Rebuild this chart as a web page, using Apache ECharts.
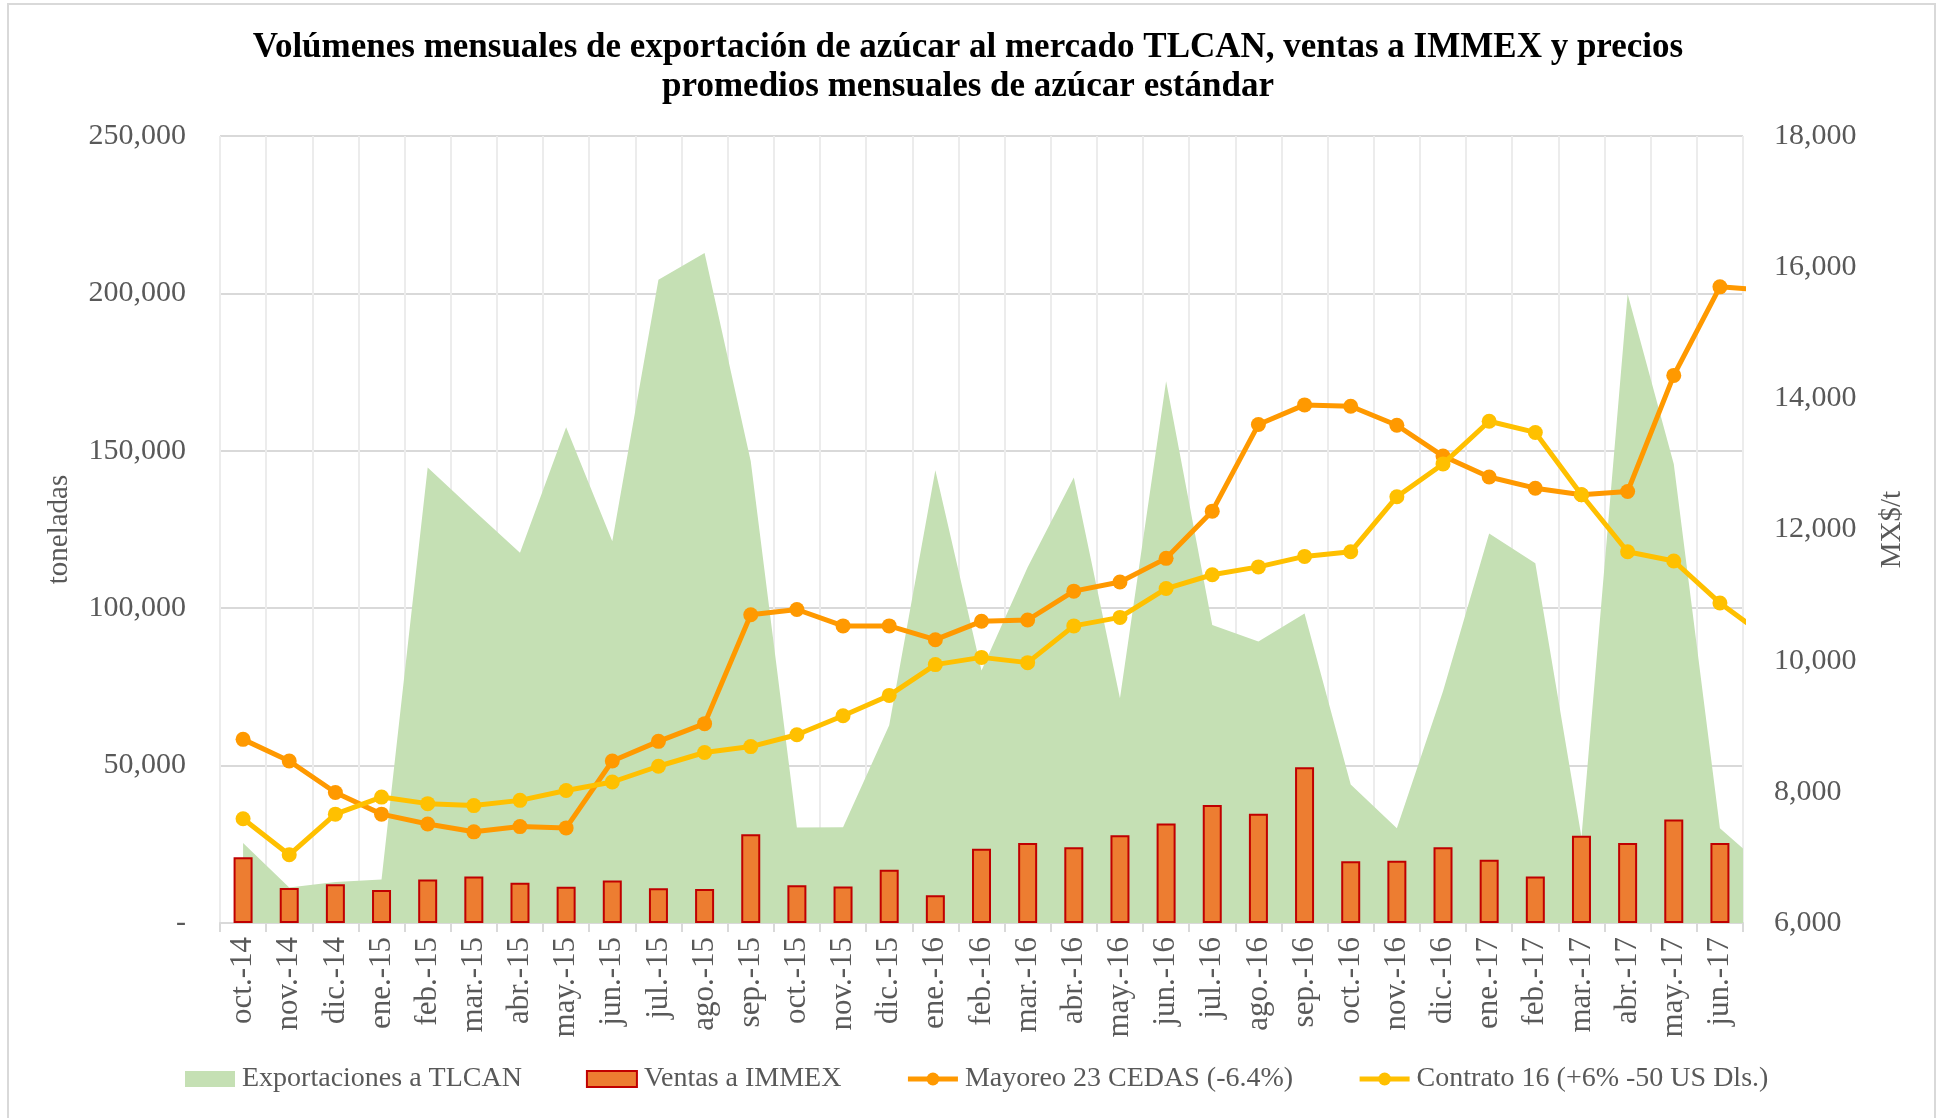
<!DOCTYPE html>
<html><head><meta charset="utf-8">
<script src="https://cdn.jsdelivr.net/npm/echarts@6/dist/echarts.min.js"></script>
<style>html,body{margin:0;padding:0;background:#fff}#c{width:1936px;height:1118px}</style>
</head><body><div id="c"></div>
<script>
// Category labels (33 visible months)
const categories = ['oct.-14','nov.-14','dic.-14','ene.-15','feb.-15','mar.-15','abr.-15','may.-15','jun.-15','jul.-15','ago.-15','sep.-15','oct.-15','nov.-15','dic.-15','ene.-16','feb.-16','mar.-16','abr.-16','may.-16','jun.-16','jul.-16','ago.-16','sep.-16','oct.-16','nov.-16','dic.-16','ene.-17','feb.-17','mar.-17','abr.-17','may.-17','jun.-17'];
// Area / line series include a 34th point (jul.-17) that is only partly visible at the right edge
const exportaciones = [25400,11300,13000,13800,144700,131000,117600,157500,121300,204300,212800,146700,30300,30400,62800,143800,80200,113000,141500,71400,172100,94700,89400,98300,44000,30100,73600,123700,114300,27300,199800,145800,30100,17300];
const ventasImmex = [20900,11100,12300,10500,13800,14800,12800,11500,13500,11000,10800,28200,12000,11600,16900,8800,23600,25400,24100,27900,31600,37500,34700,49500,19600,19800,24100,20100,14800,27700,25400,32900,25400];
const mayoreo = [8800,8470,7990,7660,7510,7390,7470,7450,8470,8770,9040,10700,10780,10530,10530,10320,10600,10620,11060,11200,11560,12280,13600,13900,13880,13590,13120,12800,12630,12530,12580,14350,15700,15650];
const contrato = [7590,7040,7660,7920,7820,7790,7870,8020,8150,8390,8600,8690,8870,9160,9470,9940,10050,9970,10530,10660,11100,11310,11430,11590,11660,12500,13000,13650,13480,12530,11660,11520,10880,10360];
const leftTicks = {min: 0, max: 250000, interval: 50000};
const rightTicks = {min: 6000, max: 18000, interval: 2000};

const FONT = "'Liberation Serif', 'DejaVu Serif', serif";
const GREY = '#595959';
const pairs = arr => arr.map((v, i) => [i, v]);

const chart = echarts.init(document.getElementById('c'), null, {renderer: 'canvas'});
chart.setOption({
  animation: false,
  backgroundColor: '#ffffff',
  graphic: [{
    type: 'rect', shape: {x: 8, y: 4, width: 1927, height: 1130},
    style: {fill: 'none', stroke: '#d9d9d9', lineWidth: 2}, silent: true
  }],
  title: {
    text: 'Volúmenes mensuales de exportación de azúcar al mercado TLCAN, ventas a IMMEX y precios\npromedios mensuales de azúcar estándar',
    left: 'center', top: 23,
    textStyle: {fontFamily: FONT, fontSize: 35, fontWeight: 'bold', color: '#000', lineHeight: 39}
  },
  grid: {left: 220, right: 193, top: 136, bottom: 195, containLabel: false},
  legend: {
    bottom: 20, left: 180,
    itemWidth: 50, itemHeight: 16, itemGap: 64,
    textStyle: {fontFamily: FONT, fontSize: 28, color: GREY, padding: [0, 0, 0, 2]},
    lineStyle: {width: 5},
    data: [
      {name: 'Exportaciones a TLCAN', icon: 'rect'},
      {name: 'Ventas a IMMEX', icon: 'rect'},
      {name: 'Mayoreo 23 CEDAS (-6.4%)'},
      {name: 'Contrato 16 (+6% -50 US Dls.)'}
    ]
  },
  xAxis: [{
    type: 'category', data: categories, boundaryGap: true, gridIndex: 0,
    axisLine: {lineStyle: {color: '#d9d9d9', width: 2}},
    axisTick: {show: true, length: 9, interval: 0, lineStyle: {color: '#d9d9d9', width: 2}},
    axisLabel: {rotate: 90, interval: 0, margin: 14, fontFamily: FONT, fontSize: 31, color: GREY},
    splitLine: {show: true, interval: 0, lineStyle: {color: '#ececec', width: 2}}
  }, {
    type: 'value', min: -0.5, max: categories.length - 0.5, show: false, gridIndex: 0
  }],
  yAxis: [{
    type: 'value', min: leftTicks.min, max: leftTicks.max, interval: leftTicks.interval,
    name: 'toneladas', nameLocation: 'middle', nameRotate: 90, nameGap: 146,
    nameTextStyle: {fontFamily: FONT, fontSize: 29, color: GREY},
    axisLine: {show: false}, axisTick: {show: false},
    axisLabel: {margin: 34, fontFamily: FONT, fontSize: 30, color: GREY,
      formatter: v => v === 0 ? '-' : v.toLocaleString('en-US')},
    splitLine: {show: true, lineStyle: {color: '#d9d9d9', width: 2}}
  }, {
    type: 'value', position: 'right', min: rightTicks.min, max: rightTicks.max, interval: rightTicks.interval,
    name: 'MX$/t', nameLocation: 'middle', nameRotate: 90, nameGap: 135,
    nameTextStyle: {fontFamily: FONT, fontSize: 29, color: GREY},
    axisLine: {show: false}, axisTick: {show: false},
    axisLabel: {margin: 31, fontFamily: FONT, fontSize: 30, color: GREY,
      formatter: v => v.toLocaleString('en-US')},
    splitLine: {show: false}
  }],
  series: [{
    name: 'Exportaciones a TLCAN', type: 'line', xAxisIndex: 1, yAxisIndex: 0,
    data: pairs(exportaciones), showSymbol: false, symbol: 'none', clip: true, z: 1,
    color: '#C5E0B4',
    lineStyle: {width: 0, color: '#C5E0B4'},
    areaStyle: {color: '#C5E0B4', opacity: 1},
    itemStyle: {color: '#C5E0B4'}
  }, {
    name: 'Ventas a IMMEX', type: 'bar', xAxisIndex: 0, yAxisIndex: 0,
    data: ventasImmex, barWidth: 19, z: 2,
    itemStyle: {color: '#ED7D31', borderColor: '#C00000', borderWidth: 2}
  }, {
    name: 'Mayoreo 23 CEDAS (-6.4%)', type: 'line', xAxisIndex: 1, yAxisIndex: 1,
    data: pairs(mayoreo), symbol: 'circle', symbolSize: 15, clip: true, z: 3,
    color: '#FF9900',
    lineStyle: {width: 5, color: '#FF9900'},
    itemStyle: {color: '#FF9900'}
  }, {
    name: 'Contrato 16 (+6% -50 US Dls.)', type: 'line', xAxisIndex: 1, yAxisIndex: 1,
    data: pairs(contrato), symbol: 'circle', symbolSize: 15, clip: true, z: 4,
    color: '#FFC000',
    lineStyle: {width: 5, color: '#FFC000'},
    itemStyle: {color: '#FFC000'}
  }]
});
</script></body></html>
